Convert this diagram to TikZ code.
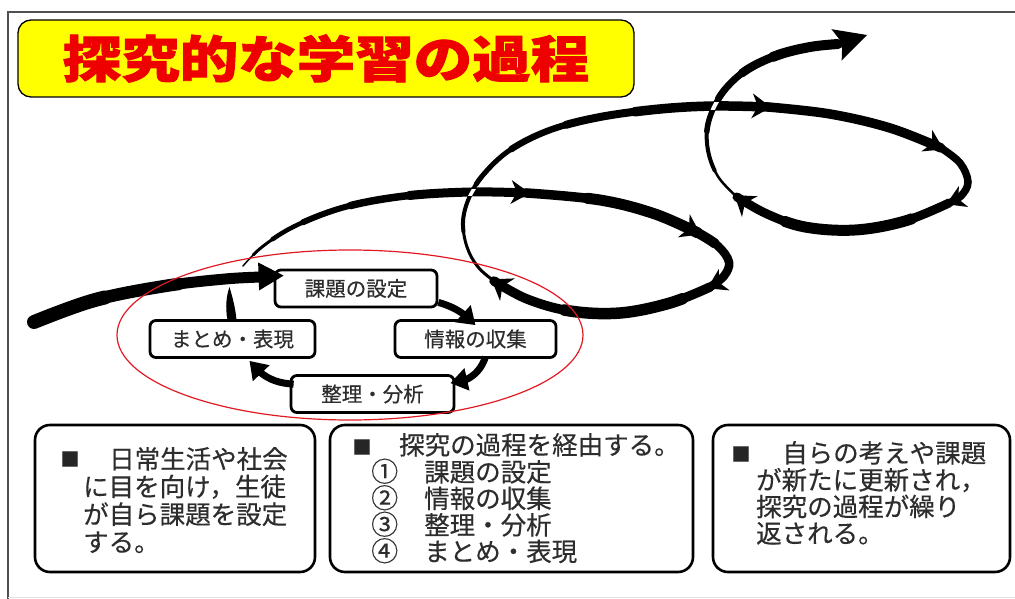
\documentclass[tikz,border=0pt]{standalone}
\usepackage{fontspec}
\usepackage{graphicx}
\usetikzlibrary{arrows.meta,calc,bending}
\newfontfamily\jp{Noto Sans CJK JP}[FakeBold=0.4]
\newfontfamily\jpheavy{Noto Sans CJK JP}[BoldFeatures={FakeBold=1.6}]
\definecolor{titlered}{RGB}{238,0,0}
\definecolor{titleyellow}{RGB}{255,255,0}
\definecolor{txtgray}{RGB}{45,45,45}
\definecolor{frameg}{RGB}{80,80,80}
\definecolor{ringred}{RGB}{225,25,35}
\tikzset{
  titlebox/.style={draw=black, line width=1.3pt, fill=titleyellow, rounded corners=13pt,
    minimum width=616pt, minimum height=77pt, inner sep=0pt, text=titlered,
    font=\jpheavy\bfseries\fontsize{50}{50}\selectfont},
  smallbox/.style={draw=black, line width=2.8pt, rounded corners=6pt, fill=white,
    text=txtgray, minimum height=37pt, inner sep=0pt, font=\jp\fontsize{20.5}{24}\selectfont},
  infobox/.style={draw=black, line width=2.6pt, rounded corners=15pt, fill=white,
    minimum height=147pt, inner sep=0pt},
  itext/.style={anchor=base west, inner sep=0pt, text=txtgray, font=\jp\fontsize{25.5}{28}\selectfont},
  bullet/.style={inner sep=0pt, text=black!85, font=\jp\fontsize{19}{19}\selectfont},
  cyc/.style={line width=7pt, black, -{Triangle[width=22pt,length=17pt]}},
  framel/.style={draw=frameg, line width=2.5pt},
  ring/.style={draw=ringred, line width=1.2pt}
}
% #1: list of width/from/to layers, #2: coordinates
\newcommand{\brushpath}[2]{%
  \foreach \bw/\ba/\bb in {#1} {%
    \pgfmathsetmacro\bdl{\bb-\ba}%
    \pgfmathsetmacro\bph{\ba==0 ? 0 : \bb-\ba+6000-\ba}%
    \draw[black, line width=\bw pt, line cap=round, dash pattern=on \bdl pt off 6000pt, dash phase=\bph pt]
      plot[smooth, tension=0.6] coordinates {#2};
  }}
% small arrow barb on the stroke: x, y, angle, half width
\newcommand{\arrowmark}[4]{%
  \fill[black, shift={(#1,#2)}, rotate=#3] (3,0) -- (-16,#4) -- (-10,0) -- (-16,-#4) -- cycle;}
\newcommand{\circnum}[1]{\makebox[53pt][l]{\fontsize{27}{27}\selectfont #1}}
\begin{document}
\begin{tikzpicture}[x=1pt,y=-1pt]
\useasboundingbox (0,0) rectangle (1015,599);
% outer frame
\draw[framel] (8,599) -- (8,12) -- (1015,12);
\draw[black!12, line width=1pt] (8,597) -- (1015,597);
% title
\node[titlebox] (title) at (326,58.5) {\scalebox{1.17}[1]{探究的な学習の過程}};
% small cycle boxes
\node[smallbox, minimum width=162pt] (k) at (356,288.5) {課題の設定};
\node[smallbox, minimum width=165pt] (m) at (232.5,339) {まとめ・表現};
\node[smallbox, minimum width=161pt] (j) at (475.5,339) {情報の収集};
\node[smallbox, minimum width=163pt] (s) at (372.5,394) {整理・分析};
% entry arrow
\brushpath{11/0/5000, 12.5/0/150, 14/0/75}{(34,322) (95,300) (165,286) (225,279) (262,277)}
\fill[black, shift={(k.north west)}, shift={(10,7)}, rotate=2] (0,0) -- (-25,14) -- (-25,-14) -- cycle;
% cycle arrows
\draw[cyc] ($(k.south east)+(0,-6)$) to[bend left=15] ($(j.north)+(0,6)$);
\draw[cyc] ($(j.south)+(10,-2)$) to[bend left=35] ($(s.north east)+(-5,9)$);
\draw[cyc] ($(s.north west)+(4,10)$) to[bend left=25] ($(m.south)+(17,2)$);
\fill[black] ($(m.north)+(-5,1)$) .. controls ($(m.north)+(-7.5,-12)$) and ($(m.north)+(-6,-24)$) ..
  ($(m.north)+(-3,-32)$) .. controls ($(m.north)+(0,-22)$) and ($(m.north)+(3,-11)$) ..
  ($(m.north)+(4,1)$) -- cycle;
% spiral strokes
\brushpath{1.5/0/5000, 3/15/5000, 4.5/40/5000, 6/75/5000, 7.5/125/5000, 9/185/5000}
  {(243,266) (262,247) (295,226) (345,207) (405,196) (471,192) (527,193)}
\brushpath{9.5/0/5000, 11/60/5000}
  {(527,193) (600,200) (655,214) (698,233)}
\brushpath{8.5/0/5000, 10/0/20}
  {(698,233) (718,246) (729,262) (724,276) (710,287)}
\brushpath{9.5/0/5000, 11.5/30/150}
  {(710,287) (670,303) (620,313) (570,311) (527,299) (494,281)}
\brushpath{3/0/5000, 4/60/5000, 5/110/5000, 6.5/160/5000, 8/220/5000, 9.5/290/5000}
  {(494,281) (478,267) (467,247) (463,222) (469,198) (483,175) (510,150) (550,130) (600,117) (660,109) (714,106) (768,107)}
\brushpath{9.5/0/5000}
  {(768,107) (830,114) (890,128) (941,148)}
\brushpath{7.5/0/5000}
  {(941,148) (960,163) (968,182) (961,196) (949,203)}
\brushpath{9/0/5000, 11/40/170}
  {(949,203) (905,221) (855,230) (805,227) (767,214) (737,197)}
\brushpath{2.5/0/5000, 4/35/5000, 5.5/75/5000, 7/110/5000, 8.5/145/5000, 10/180/5000}
  {(737,197) (719,178) (709,155) (707,130) (714,107) (727,87) (748,69) (778,55) (810,47) (838,44)}
% arrow barbs along the spiral
\arrowmark{527}{193}{-3.5}{12}
\arrowmark{698}{233}{-27}{13}
\arrowmark{710}{287}{-153}{12}
\arrowmark{494}{281}{147}{13.5}
\arrowmark{768}{107}{-4}{12.5}
\arrowmark{941}{148}{-27}{12}
\arrowmark{949}{203}{-156}{11.5}
\arrowmark{737}{197}{143}{13}
% final arrowhead
\fill[black, shift={(867,35)}, rotate=18] (0,0) -- (-32,16.5) -- (-26,0) -- (-32,-16.5) -- cycle;
% crossings
\begin{scope}
  \clip (458,189) rectangle (486,195);
  \draw[white, line width=3.5pt] plot[smooth, tension=0.6] coordinates {(463,222) (469,198) (483,175)};
\end{scope}
\begin{scope}
  \clip (700,102.5) rectangle (730,109.5);
  \draw[white, line width=4pt] plot[smooth, tension=0.6] coordinates {(707,130) (714,107) (727,87)};
\end{scope}
% red ring
\draw[ring] (350,335) ellipse [x radius=233pt, y radius=85pt];
% bottom boxes
\node[infobox, minimum width=280pt] (b1) at (175,498.5) {};
\node[infobox, minimum width=363pt] (b2) at (511.5,498.5) {};
\node[infobox, minimum width=297pt] (b3) at (861.5,498.5) {};
\node[bullet] (b1q) at (70,459) {■};
\node[itext] (b1a) at (109,468.5) {日常生活や社会};
\node[itext] (b1b) at (83,496.2) {に目を向け，生徒};
\node[itext] (b1c) at (83,523.9) {が自ら課題を設定};
\node[itext] (b1d) at (83,551.6) {する。};
\node[bullet] (b2q) at (362,447) {■};
\node[itext] (b2a) at (399,454.5) {探究の過程を経由する。};
\node[itext] (b2b) at (371,481.5) {\circnum{①}課題の設定};
\node[itext] (b2c) at (371,508) {\circnum{②}情報の収集};
\node[itext] (b2d) at (371,534.5) {\circnum{③}整理・分析};
\node[itext] (b2e) at (371,561) {\circnum{④}まとめ・表現};
\node[bullet] (b3q) at (741,454) {■};
\node[itext] (b3a) at (782,462.5) {自らの考えや課題};
\node[itext] (b3b) at (756,489.5) {が新たに更新され，};
\node[itext] (b3c) at (756,516.2) {探究の過程が繰り};
\node[itext] (b3d) at (756,542.9) {返される。};
\end{tikzpicture}
\end{document}
